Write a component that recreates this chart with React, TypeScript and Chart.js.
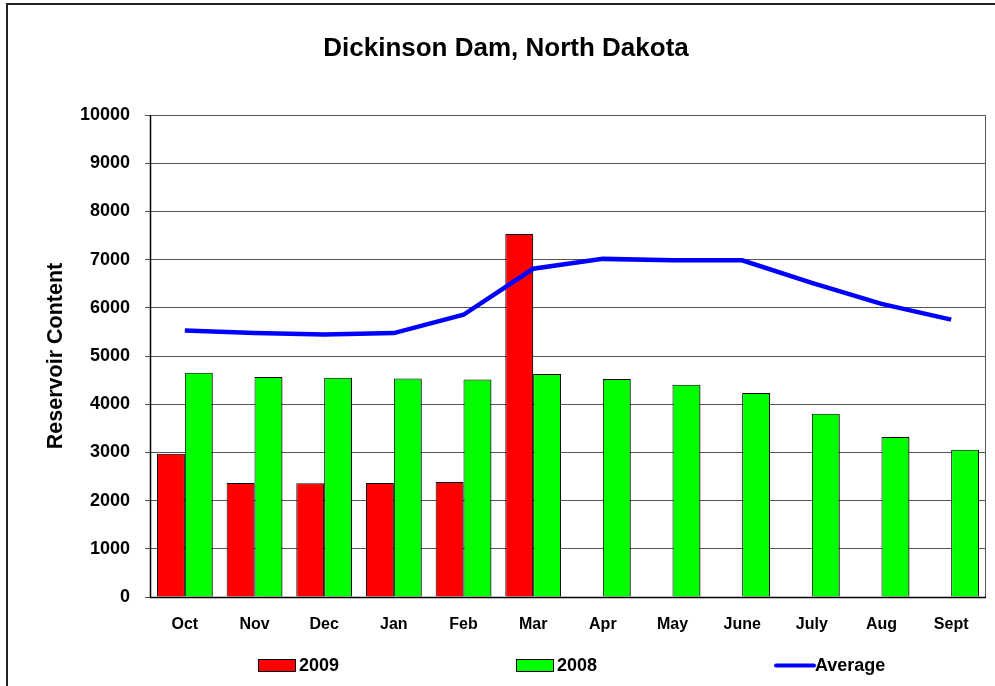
import React, { useEffect, useRef } from 'react';
import { Chart, registerables } from 'chart.js';

Chart.register(...registerables);

const categories = ['Oct', 'Nov', 'Dec', 'Jan', 'Feb', 'Mar', 'Apr', 'May', 'June', 'July', 'Aug', 'Sept'];
const values2009 = [2970, 2365, 2360, 2365, 2385, 7530, null, null, null, null, null, null];
const values2008 = [4650, 4565, 4550, 4535, 4515, 4625, 4525, 4405, 4230, 3800, 3320, 3055];
const averageValues = [5530, 5475, 5445, 5475, 5855, 6810, 7015, 6985, 6985, 6515, 6080, 5755];
const yMin = 0;
const yMax = 10000;
const yStep = 1000;

const FONT = '"Liberation Sans", Arial, Helvetica, sans-serif';

export default function App() {
  const ref = useRef<HTMLCanvasElement>(null);

  useEffect(() => {
    const canvas = ref.current;
    if (!canvas) return;

    const framePlugin = {
      id: 'frame',
      beforeDraw(chart: any) {
        const ctx = chart.ctx;
        ctx.save();
        ctx.fillStyle = '#ffffff';
        ctx.fillRect(0, 0, chart.width, chart.height);
        ctx.strokeStyle = '#222222';
        ctx.lineWidth = 2;
        ctx.beginPath();
        ctx.moveTo(7, chart.height);
        ctx.lineTo(7, 4);
        ctx.lineTo(chart.width, 4);
        ctx.stroke();
        ctx.restore();
      },
      beforeDatasetsDraw(chart: any) {
        const ctx = chart.ctx;
        const { left, top, right, bottom } = chart.chartArea;
        ctx.save();
        ctx.strokeStyle = '#555555';
        ctx.lineWidth = 1;
        ctx.beginPath();
        ctx.moveTo(left, top + 0.5);
        ctx.lineTo(right - 0.5, top + 0.5);
        ctx.lineTo(right - 0.5, bottom);
        ctx.stroke();
        ctx.restore();
      },
      beforeDatasetDraw(chart: any, args: any) {
        if (args.meta.type === 'bar') {
          const ctx = chart.ctx;
          ctx.save();
          ctx.shadowColor = 'rgba(0,0,0,0.35)';
          ctx.shadowOffsetX = 2;
          ctx.shadowOffsetY = 1;
          ctx.shadowBlur = 0;
        }
      },
      afterDatasetDraw(chart: any, args: any) {
        if (args.meta.type === 'bar') {
          chart.ctx.restore();
        }
      },
      afterDatasetsDraw(chart: any) {
        const ctx = chart.ctx;
        const { left, top, right, bottom } = chart.chartArea;
        ctx.save();
        ctx.strokeStyle = '#000000';
        ctx.lineWidth = 1.5;
        ctx.beginPath();
        ctx.moveTo(left + 0.5, top);
        ctx.lineTo(left + 0.5, bottom + 0.5);
        ctx.lineTo(right, bottom + 0.5);
        ctx.stroke();
        ctx.restore();
      },
      afterDraw(chart: any) {
        const ctx = chart.ctx;
        const starts = [258, 516, 774];
        const cy = 665.5;
        ctx.save();
        ctx.font = `bold 18px ${FONT}`;
        ctx.textBaseline = 'middle';
        ctx.textAlign = 'left';
        chart.data.datasets.forEach((ds: any, i: number) => {
          const x = starts[i];
          if (ds.type === 'line') {
            ctx.strokeStyle = ds.borderColor;
            ctx.lineWidth = 4;
            ctx.lineCap = 'round';
            ctx.beginPath();
            ctx.moveTo(x + 2, cy);
            ctx.lineTo(x + 40, cy);
            ctx.stroke();
          } else {
            ctx.fillStyle = ds.backgroundColor;
            ctx.fillRect(x, cy - 6.5, 38, 13);
            ctx.strokeStyle = '#000000';
            ctx.lineWidth = 1;
            ctx.strokeRect(x + 0.5, cy - 6, 37, 12);
          }
          ctx.fillStyle = '#000000';
          ctx.fillText(ds.label, x + 41, cy + 1);
        });
        ctx.restore();
      },
    };

    const chart = new Chart(canvas, {
      type: 'bar',
      data: {
        labels: categories,
        datasets: [
          {
            type: 'bar',
            label: '2009',
            data: values2009 as any,
            backgroundColor: '#FF0000',
            borderColor: '#000000',
            borderWidth: 1,
            categoryPercentage: 0.8,
            barPercentage: 1.0,
            order: 1,
          },
          {
            type: 'bar',
            label: '2008',
            data: values2008,
            backgroundColor: '#00FF00',
            borderColor: '#000000',
            borderWidth: 1,
            categoryPercentage: 0.8,
            barPercentage: 1.0,
            order: 1,
          },
          {
            type: 'line',
            label: 'Average',
            data: averageValues,
            borderColor: '#0000FF',
            backgroundColor: '#0000FF',
            borderWidth: 4.5,
            pointRadius: 0,
            pointHoverRadius: 0,
            tension: 0,
            fill: false,
            order: 0,
          } as any,
        ],
      },
      options: {
        responsive: false,
        animation: false,
        events: [],
        layout: { padding: { left: 26, right: 9, top: 0, bottom: 39 } },
        plugins: {
          legend: { display: false },
          tooltip: { enabled: false },
          title: {
            display: true,
            text: 'Dickinson Dam, North Dakota',
            color: '#000000',
            font: { family: FONT, size: 26, weight: 'bold' },
            padding: { top: 33.5, bottom: 50.3 },
          },
        },
        scales: {
          x: {
            grid: { display: false, drawTicks: false },
            border: { display: false },
            ticks: {
              color: '#000000',
              font: { family: FONT, size: 16, weight: 'bold' },
              padding: 18,
              maxRotation: 0,
              autoSkip: false,
            },
            afterFit(scale: any) {
              scale.height = 50;
            },
          },
          y: {
            min: yMin,
            max: yMax,
            grid: { color: '#555555', lineWidth: 1, tickLength: 5, drawTicks: true },
            border: { display: false },
            ticks: {
              stepSize: yStep,
              color: '#000000',
              font: { family: FONT, size: 18, weight: 'bold' },
              padding: 15,
              callback: (v: any) => String(v),
            },
            title: {
              display: true,
              text: 'Reservoir Content',
              color: '#000000',
              font: { family: FONT, size: 21.5, weight: 'bold' },
              padding: { top: 17, bottom: 0 },
            },
            afterFit(scale: any) {
              scale.width = 124;
            },
          },
        },
      } as any,
      plugins: [framePlugin],
    });

    return () => chart.destroy();
  }, []);

  return (
    <div style={{ position: 'fixed', left: 0, top: 0, width: 995, height: 686, background: '#fff' }}>
      <canvas ref={ref} width={995} height={686} style={{ display: 'block', width: 995, height: 686 }} />
    </div>
  );
}
